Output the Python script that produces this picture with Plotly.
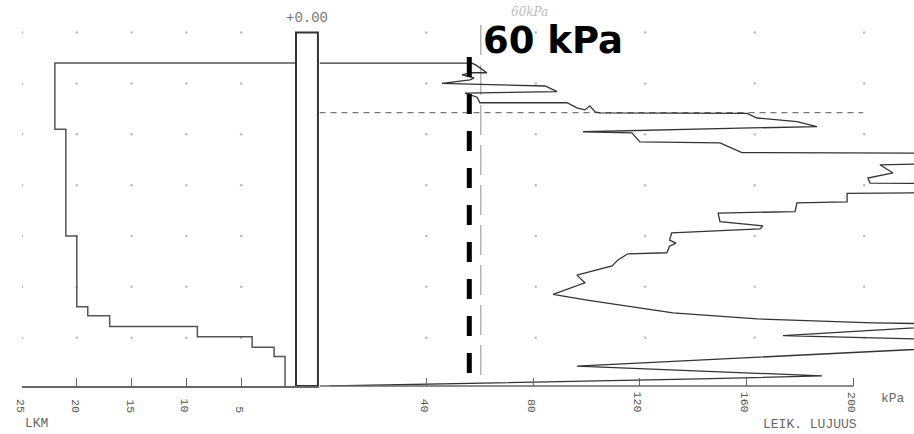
import plotly.graph_objects as go

# ---------------- data ----------------
# Left panel: LKM (count per 0.2 m) step profile vs depth (m)
lkm_depth_bounds = [0.60, 1.90, 4.00, 5.39, 5.57, 5.78, 5.98, 6.19, 6.37, 6.95]
lkm_values = [22, 21, 20, 19, 17, 9, 4, 2, 1]
lkm_ticks = [25, 20, 15, 10, 5]
lkm_ticktext = ["25", "20", "15", "10", "5"]

# Right panel: shear strength (kPa) vs depth (m)
shear_kpa = [0, 57.1, 58.6, 62.7, 56.4, 53.4, 57.9, 56.4, 45.9, 84.5, 89.0, 54.5, 59.0,
             60.1, 92.7, 96.4, 99.4, 101.3, 103.2, 105.1, 160.1, 163.9, 178.8, 186.3,
             157.5, 98.7, 117.0, 120.0, 150.0, 158.2, 235, 235, 209.9, 214.8, 205.4,
             206.2, 235, 235, 197.6, 197.6, 178.8, 178.1, 149.3, 150.0, 166.1, 165.0,
             131.9, 131.1, 133.5, 131.1, 130.1, 115.5, 111.8, 109.6, 96.4, 99.4, 87.5,
             100.2, 132.4, 163.9, 207.3, 235, 235, 173.6, 235, 235, 96.4, 142.5, 188.2,
             142.5, 67.6, 3.9]
shear_depth = [0.60, 0.60, 0.64, 0.79, 0.79, 0.83, 0.89, 0.93, 1.00, 1.05, 1.16, 1.19, 1.27,
               1.38, 1.38, 1.48, 1.52, 1.44, 1.56, 1.58, 1.59, 1.68, 1.75, 1.85,
               1.88, 1.95, 1.97, 2.15, 2.17, 2.36, 2.37, 2.57, 2.60, 2.76, 2.86,
               2.96, 2.97, 3.15, 3.16, 3.33, 3.35, 3.52, 3.55, 3.72, 3.80, 3.86,
               3.94, 4.08, 4.14, 4.20, 4.33, 4.35, 4.47, 4.59, 4.77, 4.92, 5.15,
               5.26, 5.51, 5.63, 5.71, 5.73, 5.77, 5.96, 6.04, 6.20, 6.56, 6.65, 6.75,
               6.81, 6.89, 6.95]
kpa_ticks = [40, 80, 120, 160, 200]
kpa_ticktext = ["40", "80", "120", "160", "200"]

# reference lines
limit_kpa = 56.1            # bold dashed marker line
limit_depth = [0.48, 6.83]
hand_kpa = 60.4             # faint hand-drawn 60 kPa line
hand_depth = [-0.15, 6.83]
gw_depth = 1.575            # dashed groundwater level
gw_kpa = [0, 203.6]

# bar/box between the panels (in LKM units) and depth
box_x = [0, -2.0]
box_depth = [0.0, 6.95]

# dot grid
grid_depths = [0, 1, 2, 3, 4, 5, 6]
grid_left = [25, 20, 15, 10, 5]
grid_right = [40, 81, 122, 163, 204]

DEPTH_MAX = 6.95
DEPTH_MIN = -0.641

# ---------------- figure ----------------
fig = go.Figure()

# dot grid
gx, gy = [], []
for d in grid_depths:
    for c in grid_left:
        gx.append(c); gy.append(d)
fig.add_trace(go.Scatter(x=gx, y=gy, mode="markers", xaxis="x", yaxis="y",
                         marker=dict(size=2.5, color="#bbbbbb"), hoverinfo="skip"))
gx, gy = [], []
for d in grid_depths:
    for c in grid_right:
        gx.append(c); gy.append(d)
fig.add_trace(go.Scatter(x=gx, y=gy, mode="markers", xaxis="x2", yaxis="y",
                         marker=dict(size=2.5, color="#bbbbbb"), hoverinfo="skip"))

# LKM step profile
lx, ly = [0], [lkm_depth_bounds[0]]
for i, v in enumerate(lkm_values):
    lx += [v, v]
    ly += [lkm_depth_bounds[i], lkm_depth_bounds[i + 1]]
fig.add_trace(go.Scatter(x=lx, y=ly, mode="lines", xaxis="x", yaxis="y",
                         line=dict(color="#555555", width=1.5)))

# box
fig.add_trace(go.Scatter(x=[box_x[0], box_x[0], box_x[1], box_x[1], box_x[0]],
                         y=[box_depth[1], box_depth[0], box_depth[0], box_depth[1], box_depth[1]],
                         mode="lines", xaxis="x", yaxis="y",
                         line=dict(color="#333333", width=2)))

# groundwater dashed line
fig.add_trace(go.Scatter(x=gw_kpa, y=[gw_depth, gw_depth], mode="lines", xaxis="x2", yaxis="y",
                         line=dict(color="#777777", width=1.2, dash="6px,5px")))

# faint hand-drawn line
fig.add_trace(go.Scatter(x=[hand_kpa, hand_kpa], y=hand_depth, mode="lines", xaxis="x2", yaxis="y",
                         line=dict(color="#b5b5b5", width=1.5, dash="30px,10px")))

# shear strength curve
fig.add_trace(go.Scatter(x=shear_kpa, y=shear_depth, mode="lines", xaxis="x2", yaxis="y",
                         line=dict(color="#333333", width=1.3)))

# bold dashed marker line
fig.add_trace(go.Scatter(x=[limit_kpa, limit_kpa], y=limit_depth, mode="lines", xaxis="x2", yaxis="y",
                         line=dict(color="black", width=5, dash="20px,17px")))

# right baseline
fig.add_shape(type="line", xref="x2", yref="paper", x0=0, x1=200, y0=0, y1=0,
              line=dict(color="#666666", width=1.5))

annotations = []
label_font = dict(family="Liberation Mono", size=11.5, color="#555555")
for v, t in zip(lkm_ticks, lkm_ticktext):
    annotations.append(dict(x=v, xref="x", y=-0.0751, yref="paper", text=t, textangle=90,
                            showarrow=False, xanchor="center", yanchor="bottom", xshift=-2,
                            font=label_font))
for v, t in zip(kpa_ticks, kpa_ticktext):
    annotations.append(dict(x=v, xref="x2", y=-0.0751, yref="paper", text=t, textangle=90,
                            showarrow=False, xanchor="center", yanchor="bottom", xshift=-2,
                            font=label_font))

small_font = dict(family="Liberation Mono", size=13, color="#666666")
annotations += [
    dict(x=23.7, xref="x", y=-0.0959, yref="paper", text="LKM", showarrow=False,
         xanchor="center", yanchor="middle", font=small_font),
    dict(x=214.8, xref="x2", y=-0.0311, yref="paper", text="kPa", showarrow=False,
         xanchor="center", yanchor="middle", font=small_font),
    dict(x=183.7, xref="x2", y=-0.101, yref="paper", text="LEIK. LUJUUS", showarrow=False,
         xanchor="center", yanchor="middle", font=small_font),
    dict(x=-1.0, xref="x", y=-0.287, yref="y", text="+0.00", showarrow=False,
         xanchor="center", yanchor="middle",
         font=dict(family="Liberation Mono", size=14, color="#777777")),
    dict(x=78.5, xref="x2", y=-0.405, yref="y", text="60kPa", showarrow=False,
         xanchor="center", yanchor="middle", borderpad=0,
         font=dict(family="DejaVu Serif", size=12, color="#bdbdbd", style="italic")),
    dict(x=87.5, xref="x2", y=0.165, yref="y", text="<b>60 kPa</b>", showarrow=False,
         xanchor="center", yanchor="middle", borderpad=0,
         font=dict(family="DejaVu Sans", size=37, color="black")),
]

fig.update_layout(
    width=914, height=434,
    margin=dict(l=22, r=0, t=0, b=48),
    paper_bgcolor="white", plot_bgcolor="white",
    showlegend=False,
    xaxis=dict(domain=[0, 0.33352], range=[25, -2.144], anchor="y",
               showgrid=False, zeroline=False, showline=True, linecolor="#666666", linewidth=1.5,
               tickvals=lkm_ticks, ticks="inside", ticklen=8, tickcolor="#666666", tickwidth=1.2,
               showticklabels=False),
    xaxis2=dict(domain=[0.33352, 1], range=[0, 222.66], anchor="y",
                showgrid=False, zeroline=False, showline=False,
                tickvals=kpa_ticks, ticks="inside", ticklen=8, tickcolor="#666666", tickwidth=1.2,
                showticklabels=False),
    yaxis=dict(range=[DEPTH_MAX, DEPTH_MIN], showgrid=False, zeroline=False,
               showticklabels=False, showline=False, ticks=""),
    annotations=annotations,
)

fig.write_html("out.html", config={"displayModeBar": False},
               post_script="document.body.style.margin='0';document.body.style.overflow='hidden';")
